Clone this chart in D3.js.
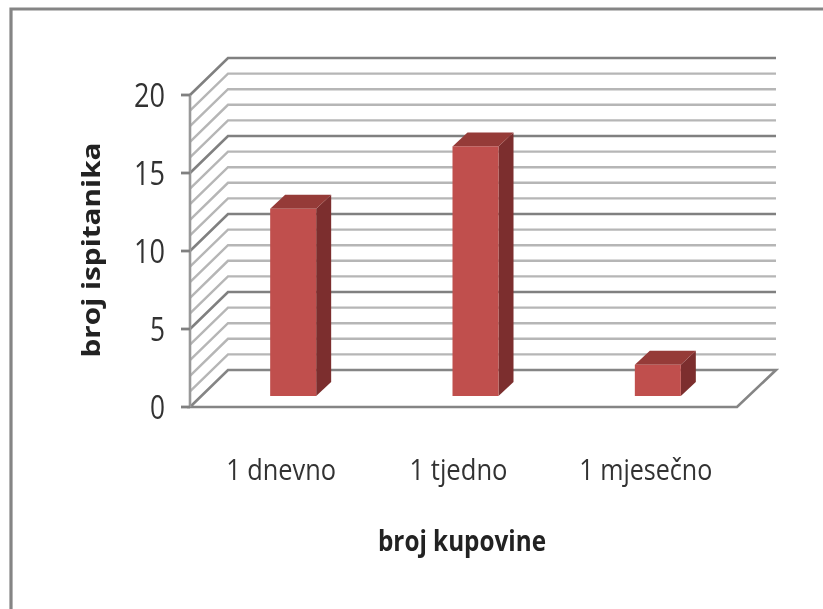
<!DOCTYPE html>
<html><head><meta charset="utf-8">
<script src="https://cdnjs.cloudflare.com/ajax/libs/d3/7.8.5/d3.min.js"></script>
<style>html,body{margin:0;padding:0;background:#fff;overflow:hidden}svg{display:block}</style>
</head><body><svg id="c" width="823" height="609"></svg>
<script>
const categories = ["1 dnevno", "1 tjedno", "1 mjesečno"];
const values = [12, 16, 2];
const majorTicks = [0, 5, 10, 15, 20];
const gridValues = d3.range(0, 21);
const yTitle = "broj ispitanika";
const xTitle = "broj kupovine";

const svg = d3.select("#c");
svg.append("rect").attr("width",823).attr("height",609).attr("fill","#fff");
const defs = svg.append("defs");
defs.append("filter").attr("id","soft").attr("filterUnits","userSpaceOnUse")
  .attr("x",0).attr("y",0).attr("width",823).attr("height",609)
  .append("feGaussianBlur").attr("stdDeviation",0.75);
const g = svg.append("g").attr("filter","url(#soft)");

// frame
g.append("path").attr("d","M11 612V9H826").attr("fill","none").attr("stroke","#858585").attr("stroke-width",3.2);

const y = d3.scaleLinear().domain([0,20]).range([407,95]);
const x = d3.scaleBand().domain(categories).range([190,737]);
const backDx = 38, backDy = -37, backRight = 776;

// floor and walls
gridValues.forEach(v => {
  const major = v % 5 === 0;
  const yy = y(v);
  const col = major ? "#808080" : "#b6b6b6";
  if (v > 0) {
    g.append("path")
      .attr("d",`M190 ${yy}L${190+backDx} ${yy+backDy}H${backRight}`)
      .attr("fill","none").attr("stroke",col).attr("stroke-width",major?2.6:2.4);
  } else {
    g.append("path")
      .attr("d",`M190 ${yy}L${190+backDx} ${yy+backDy}H${backRight}L737 ${yy}Z`)
      .attr("fill","#fff").attr("stroke","#858585").attr("stroke-width",2.6);
  }
});

// y axis
g.append("line").attr("x1",190).attr("x2",190).attr("y1",y(20)).attr("y2",y(0)).attr("stroke","#999").attr("stroke-width",2.6);
g.selectAll(".tk").data(majorTicks).join("line").attr("class","tk")
  .attr("x1",181).attr("x2",190).attr("y1",d=>y(d)).attr("y2",d=>y(d)).attr("stroke","#808080").attr("stroke-width",2.8);

// y tick labels
const font = "'Open Sans','Noto Sans',sans-serif";
g.selectAll(".yl").data(majorTicks).join("text").attr("class","yl")
  .attr("x",165).attr("y",d=>y(d)+12).attr("text-anchor","end")
  .attr("font-family",font).attr("font-size",32).attr("fill","#333")
  .attr("textLength",d=>d<10?15:31).attr("lengthAdjust","spacingAndGlyphs")
  .text(d=>d);

// bars
const barW = 46, shiftX = 12, baseShift = 11, depthX = 15, depthY = 14;
const bars = g.selectAll(".bar").data(categories.map((c,i)=>({c,v:values[i]}))).join("g").attr("class","bar");
const bx = d => x(d.c) + x.bandwidth()/2 + shiftX - barW/2;
const by = d => y(d.v) - baseShift;
const b0 = y(0) - baseShift;
bars.append("path").attr("fill","#7b2f2d").attr("d",d=>{
  const l=bx(d)+barW,t=by(d);
  return `M${l} ${t}L${l+depthX} ${t-depthY}V${b0-depthY}L${l} ${b0}Z`;});
bars.append("path").attr("fill","#953a38").attr("d",d=>{
  const l=bx(d),t=by(d);
  return `M${l} ${t}L${l+depthX} ${t-depthY}H${l+barW+depthX}L${l+barW} ${t}Z`;});
bars.append("rect").attr("fill","#c0504d").attr("x",bx).attr("y",by).attr("width",barW).attr("height",d=>b0-by(d));

// category labels
const catLen = [110, 98, 133];
g.selectAll(".xl").data(categories).join("text").attr("class","xl")
  .attr("x",d=>x(d)+x.bandwidth()/2-(d===categories[1]?5:0)).attr("y",480).attr("text-anchor","middle")
  .attr("font-family",font).attr("font-size",29).attr("fill","#333")
  .attr("textLength",(d,i)=>catLen[i]).attr("lengthAdjust","spacingAndGlyphs")
  .text(d=>d);

// axis titles
g.append("text").attr("x",462).attr("y",551).attr("text-anchor","middle")
  .attr("font-family",font).attr("font-size",28).attr("font-weight",700).attr("fill","#222")
  .attr("textLength",168).attr("lengthAdjust","spacingAndGlyphs").text(xTitle);
g.append("text").attr("transform","translate(100,250) rotate(-90)").attr("text-anchor","middle")
  .attr("font-family",font).attr("font-size",25).attr("font-weight",700).attr("fill","#222")
  .attr("textLength",215).attr("lengthAdjust","spacingAndGlyphs").text(yTitle);
</script></body></html>
